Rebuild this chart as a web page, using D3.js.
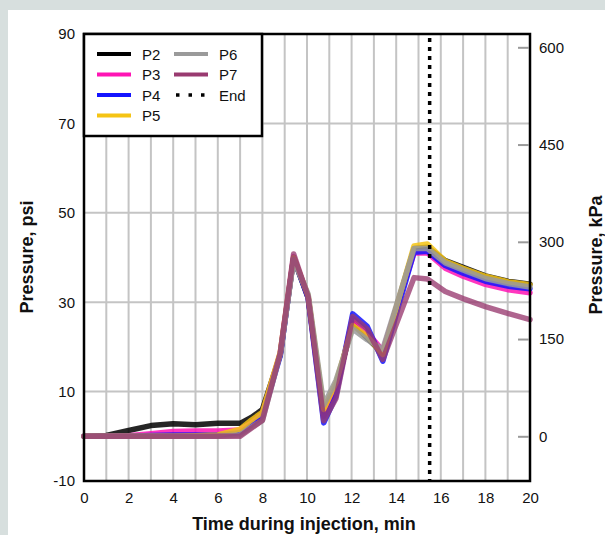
<!DOCTYPE html>
<html>
<head>
<meta charset="utf-8">
<script src="https://cdn.jsdelivr.net/npm/d3@7/dist/d3.min.js"></script>
<style>
  html, body { margin: 0; padding: 0; background: #d7dfde; }
  svg { display: block; }
  text { font-family: "Liberation Sans", Arial, sans-serif; fill: #111; }
</style>
</head>
<body>
<svg id="chart" width="605" height="535"></svg>
<script>
// Time during injection (min)
const minutes = [0, 1, 2, 3, 4, 5, 6, 7, 7.5, 8, 8.8, 9.4, 10.05, 10.75, 11.3, 12.05, 12.7, 13.4, 14.8, 15.4, 16.2, 17, 18, 19, 20];

// Pressure readings (psi) at each port
const p2 = [0, 0.2, 1.3, 2.4, 2.8, 2.6, 2.9, 2.9, 4.2, 6.0, 18.2, 39.8, 31.0, 5.5, 11.0, 25.2, 22.0, 18.5, 42.0, 42.3, 39.3, 37.8, 35.9, 34.7, 34.0];
const p3 = [0, 0, 0.1, 0.6, 1.1, 1.2, 1.2, 1.4, 3.0, 5.0, 18.6, 40.2, 31.3, 4.5, 10.0, 26.3, 23.2, 19.2, 41.0, 41.0, 37.6, 35.8, 34.0, 32.8, 32.1];
const p4 = [0, 0, 0, 0.2, 0.3, 0.3, 0.3, 0.8, 2.5, 4.5, 18.0, 40.0, 31.0, 3.0, 9.0, 27.4, 24.6, 16.8, 41.2, 41.4, 38.2, 36.5, 34.7, 33.6, 33.0];
const p5 = [0, 0, 0, 0, 0, 0.1, 0.3, 1.6, 3.6, 5.4, 18.8, 40.0, 31.5, 6.0, 12.0, 24.8, 22.4, 18.3, 42.6, 43.0, 39.2, 37.6, 35.8, 34.6, 33.9];
const p6 = [0, 0, 0, 0, 0, 0, 0, 0.3, 2.0, 3.5, 18.4, 39.5, 31.8, 7.0, 12.5, 24.0, 21.6, 19.5, 42.0, 42.0, 38.8, 37.2, 35.3, 34.2, 33.4];
const p7 = [0, 0, 0, 0, 0, 0, 0, 0, 1.8, 3.6, 18.6, 40.8, 31.2, 3.5, 8.5, 26.8, 24.0, 17.2, 35.5, 35.2, 32.4, 30.8, 29.0, 27.5, 26.1];

// End of injection (min)
const endTime = 15.5;

const seriesNames = ["P2", "P3", "P4", "P5", "P6", "P7"];
const seriesValues = [p2, p3, p4, p5, p6, p7];
const seriesColors = ["#000000", "#ff14b4", "#1414ff", "#f5c414", "#9a9a9a", "#993a70"];

// Tick labels
const xTicks = [0, 2, 4, 6, 8, 10, 12, 14, 16, 18, 20];
const yTicksPsi = [-10, 10, 30, 50, 70, 90];
const yTicksKpa = [0, 150, 300, 450, 600];

const PSI_TO_KPA = 6.894757;

const svg = d3.select("#chart");

// white panel
svg.append("rect").attr("x", 8).attr("y", 10).attr("width", 597).attr("height", 525).attr("fill", "#ffffff");

const plot = { left: 84, right: 530, top: 34, bottom: 481 };

const x = d3.scaleLinear().domain([0, 20]).range([plot.left, plot.right]);
const y = d3.scaleLinear().domain([-10, 90]).range([plot.bottom, plot.top]);
const yK = d3.scaleLinear().domain([-10 * PSI_TO_KPA, 90 * PSI_TO_KPA]).range([plot.bottom, plot.top]);

// grid
const grid = svg.append("g").attr("stroke", "#c4c4c4").attr("stroke-width", 2);
grid.selectAll("line.v").data(d3.range(1, 20)).join("line")
  .attr("x1", d => x(d)).attr("x2", d => x(d))
  .attr("y1", plot.top).attr("y2", plot.bottom);
grid.selectAll("line.h").data([10, 30, 50, 70]).join("line")
  .attr("x1", plot.left).attr("x2", plot.right)
  .attr("y1", d => y(d)).attr("y2", d => y(d));

// series lines
const line = d3.line().x((d, i) => x(minutes[i])).y(d => y(d));
const lines = svg.append("g").attr("fill", "none").attr("stroke-width", 5.5)
  .attr("stroke-linejoin", "round").attr("stroke-linecap", "round");
seriesValues.forEach((vals, k) => {
  lines.append("path").datum(vals)
    .attr("d", line)
    .attr("stroke", seriesColors[k])
    .attr("stroke-opacity", k === 5 ? 0.78 : 0.85);
});

// end-of-injection marker
svg.append("line")
  .attr("x1", x(endTime)).attr("x2", x(endTime))
  .attr("y1", plot.top + 4).attr("y2", plot.bottom)
  .attr("stroke", "#000").attr("stroke-width", 3.5)
  .attr("stroke-dasharray", "4,5");

// frame
svg.append("rect")
  .attr("x", plot.left).attr("y", plot.top)
  .attr("width", plot.right - plot.left).attr("height", plot.bottom - plot.top)
  .attr("fill", "none").attr("stroke", "#000").attr("stroke-width", 2.5);

const tickFont = sel => sel.style("font-size", "15px")
  .style("font-family", "Liberation Sans, Arial, sans-serif").attr("fill", "#111");

// left axis (psi)
const axL = d3.axisLeft(y).tickValues(yTicksPsi).tickSize(0).tickPadding(9).tickFormat(d => String(d));
const gL = svg.append("g").attr("transform", `translate(${plot.left},0)`).call(axL);
gL.select(".domain").remove();
gL.selectAll("text").call(tickFont);

// bottom axis
const axB = d3.axisBottom(x).tickValues(xTicks).tickSize(0).tickPadding(11).tickFormat(d => String(d));
const gB = svg.append("g").attr("transform", `translate(0,${plot.bottom})`).call(axB);
gB.select(".domain").remove();
gB.selectAll("text").call(tickFont);

// right axis (kPa)
const axR = d3.axisRight(yK).tickValues(yTicksKpa).tickSize(0).tickPadding(9).tickFormat(d => String(d));
const gR = svg.append("g").attr("transform", `translate(${plot.right},0)`).call(axR);
gR.select(".domain").remove();
gR.selectAll("text").call(tickFont);
gR.selectAll(".tick").append("line")
  .attr("x1", -12).attr("x2", -1).attr("y1", 0).attr("y2", 0)
  .attr("stroke", "#9a9a9a").attr("stroke-width", 2);

// axis titles
svg.append("text")
  .attr("x", 304).attr("y", 530)
  .attr("text-anchor", "middle")
  .style("font-size", "18px").style("font-weight", "bold")
  .text("Time during injection, min");
svg.append("text")
  .attr("transform", "translate(33,257) rotate(-90)")
  .attr("text-anchor", "middle")
  .style("font-size", "18px").style("font-weight", "bold")
  .text("Pressure, psi");
svg.append("text")
  .attr("transform", "translate(602,255) rotate(-90)")
  .attr("text-anchor", "middle")
  .style("font-size", "18px").style("font-weight", "bold")
  .text("Pressure, kPa");

// legend
const lg = svg.append("g");
lg.append("rect")
  .attr("x", plot.left).attr("y", plot.top)
  .attr("width", 178).attr("height", 102)
  .attr("fill", "#fff").attr("stroke", "#000").attr("stroke-width", 2.5);
const legendItems = seriesNames.map((n, i) => ({ name: n, color: seriesColors[i], dotted: false }))
  .concat([{ name: "End", color: "#000", dotted: true }]);
const colX = [97, 174];
legendItems.forEach((it, i) => {
  const col = i < 4 ? 0 : 1;
  const row = i < 4 ? i : i - 4;
  const cy = 54 + row * 20.5;
  const g = lg.append("g");
  if (it.dotted) {
    g.append("line").attr("x1", colX[col] + 2).attr("x2", colX[col] + 34)
      .attr("y1", cy).attr("y2", cy)
      .attr("stroke", "#000").attr("stroke-width", 3.5).attr("stroke-dasharray", "3.5,9");
  } else {
    g.append("line").attr("x1", colX[col]).attr("x2", colX[col] + 34)
      .attr("y1", cy).attr("y2", cy)
      .attr("stroke", it.color).attr("stroke-width", 4);
  }
  g.append("text").attr("x", colX[col] + 45).attr("y", cy + 5.5)
    .style("font-size", "15px").text(it.name);
});
</script>
</body>
</html>
